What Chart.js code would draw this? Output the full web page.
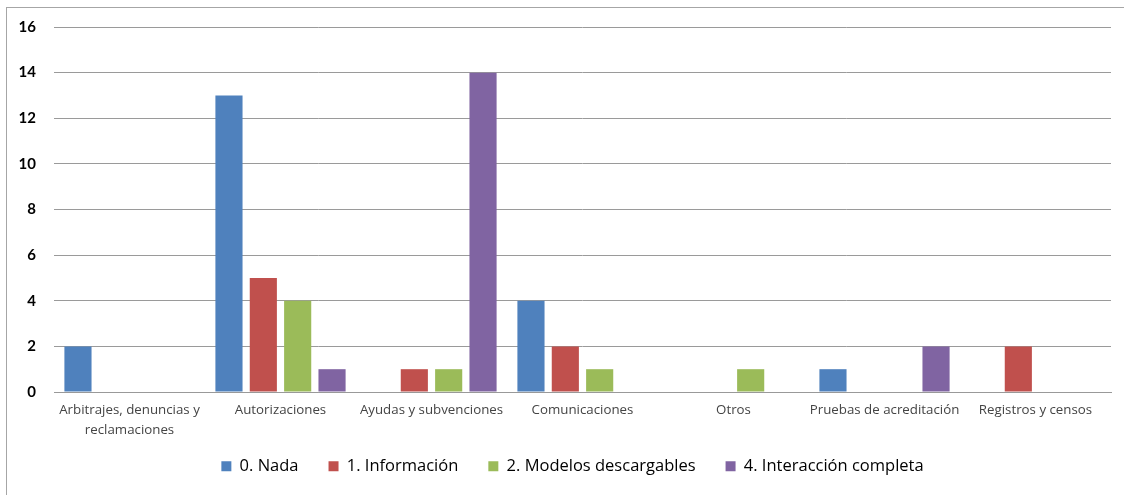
<!DOCTYPE html>
<html>
<head>
<meta charset="utf-8">
<script src="https://cdn.jsdelivr.net/npm/chart.js@4.4.1/dist/chart.umd.min.js"></script>
<style>
  html, body { margin: 0; padding: 0; background: #fff; }
  #wrap { position: relative; width: 1124px; height: 495px; overflow: hidden; }
  #frame { position: absolute; left: 6px; top: 7px; width: 1130px; height: 500px;
           border-left: 1px solid #a6a6a6; border-top: 1px solid #a6a6a6; }
  canvas { position: absolute; left: 0; top: 0; }
</style>
</head>
<body>
<div id="wrap">
  <div id="frame"></div>
  <canvas id="myChart" width="1124" height="495"></canvas>
</div>
<script>
// categorias del eje x
let categorias = [
    ['Arbitrajes, denuncias y', 'reclamaciones'],
    'Autorizaciones',
    'Ayudas y subvenciones',
    'Comunicaciones',
    'Otros',
    'Pruebas de acreditación',
    'Registros y censos'
];

let nada = [2, 13, 0, 4, 0, 1, 0];
let informacion = [0, 5, 1, 2, 0, 0, 2];
let modelos = [0, 4, 1, 1, 1, 0, 0];
let interaccion = [0, 1, 14, 0, 0, 2, 0];

let ticksY = [0, 2, 4, 6, 8, 10, 12, 14, 16];

let serie = function (label, color, data) {
    return {
        label: label,
        backgroundColor: color,
        borderWidth: 0,
        categoryPercentage: 0.91,
        barPercentage: 0.79,
        data: data
    };
}

// la leyenda usa mucho espacio entre items pero ocupa poco alto
let leyendaAncha = {
    id: 'leyendaAncha',
    afterInit: function (chart) {
        let leyenda = chart.legend;
        let fitOriginal = leyenda.fit;
        leyenda.fit = function () {
            fitOriginal.call(this);
            this.height = 40;
        };
    },
    afterLayout: function (chart) {
        let leyenda = chart.legend;
        leyenda.top -= leyenda.options.labels.padding - 10;
        leyenda.left += 14;
        leyenda.right += 14;
    }
};

let ctx = document.getElementById('myChart').getContext('2d');

let chart = new Chart(ctx, {
    type: 'bar',
    data: {
        labels: categorias,
        datasets: [
            serie('0. Nada', '#4f81bd', nada),
            serie('1. Información', '#c0504d', informacion),
            serie('2. Modelos descargables', '#9bbb59', modelos),
            serie('4. Interacción completa', '#8064a2', interaccion)
        ]
    },
    plugins: [leyendaAncha],
    options: {
        responsive: false,
        animation: false,
        layout: { padding: { left: 6, right: 13, top: 20, bottom: 7 } },
        plugins: {
            tooltip: { enabled: false },
            legend: {
                position: 'bottom',
                labels: {
                    boxWidth: 10,
                    boxHeight: 10,
                    padding: 30,
                    color: '#000',
                    font: { family: 'Open Sans', size: 16.5 }
                }
            }
        },
        scales: {
            x: {
                grid: { display: false, drawTicks: false },
                border: { display: true, color: '#999', width: 1 },
                ticks: {
                    color: '#444',
                    padding: 8,
                    maxRotation: 0,
                    autoSkip: false,
                    font: { family: 'Open Sans', size: 13.3, lineHeight: 1.5 }
                },
                afterFit: function (scale) { scale.height = 56; }
            },
            y: {
                min: 0,
                max: 16,
                afterBuildTicks: function (scale) {
                    scale.ticks = ticksY.map(v => ({ value: v }));
                },
                grid: { color: '#9a9a9a', lineWidth: 1, drawTicks: false },
                border: { display: false },
                ticks: {
                    color: '#000',
                    padding: 18,
                    font: { family: 'Lato', size: 15, weight: 'bold' }
                },
                afterFit: function (scale) { scale.width = 48; }
            }
        }
    }
});
</script>
</body>
</html>
